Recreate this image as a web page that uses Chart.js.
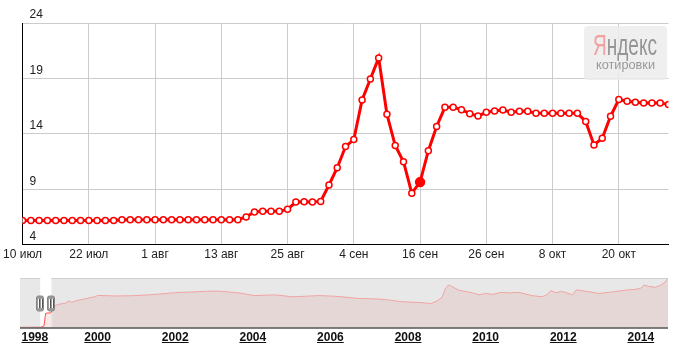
<!DOCTYPE html>
<html lang="ru">
<head>
<meta charset="utf-8">
<title>Котировки</title>
<script src="https://cdn.jsdelivr.net/npm/chart.js@4.4.1/dist/chart.umd.min.js"></script>
<style>
  body { margin: 0; background: #fff; }
  #wrap { position: relative; width: 674px; height: 351px; overflow: hidden; }
  #mainChart { position: absolute; left: 0; top: 0; }
  #navChart { position: absolute; left: 0; top: 265px; }
</style>
</head>
<body>
<div id="wrap">
  <canvas id="mainChart" width="674" height="265"></canvas>
  <canvas id="navChart" width="674" height="86"></canvas>
</div>
<script>
// основной график: подписи дат (каждые 8 торговых дней) и курс
const dateLabels = ['10 июл', '22 июл', '1 авг', '13 авг', '25 авг', '4 сен', '16 сен', '26 сен', '8 окт', '20 окт'];
const rates = [
  6.18, 6.18, 6.18, 6.18, 6.18, 6.18, 6.18, 6.18, 6.18, 6.18, 6.18, 6.18,
  6.24, 6.24, 6.24, 6.24, 6.24, 6.24, 6.24, 6.24, 6.24, 6.24, 6.24, 6.24, 6.24, 6.24, 6.24,
  6.5, 6.94, 7.02, 7.02, 7.02, 7.18, 7.84, 7.86, 7.84, 7.9,
  9.38, 10.94, 12.85, 13.48, 17.06, 18.94, 20.85, 15.76, 12.94, 11.48, 8.64, 9.64,
  12.48, 14.66, 16.39, 16.39, 16.18, 15.82, 15.6, 15.94, 16.06, 16.15, 15.94, 16.03, 16.03,
  15.85, 15.85, 15.85, 15.85, 15.85, 15.85, 15.12, 13.0, 13.6, 15.58,
  17.09, 16.94, 16.85, 16.79, 16.79, 16.79, 16.64
];
const yTicks = [4, 9, 14, 19, 24];
const activeIndex = 48; // 16 сен - выделенная точка

// навигатор: годы и курс за весь период
const navYears = [
  1998.0, 1998.3, 1998.55, 1998.62, 1998.66, 1998.72, 1998.79, 1998.84, 1998.88, 1998.98,
  1999.1, 1999.18, 1999.25, 1999.33, 1999.45, 1999.7, 1999.95, 2000.0, 2000.5, 2000.9,
  2001.33, 2001.6, 2002.0, 2002.46, 2002.8, 2003.1, 2003.26, 2003.7, 2004.03, 2004.57,
  2005.03, 2005.4, 2005.7, 2006.14, 2006.7, 2007.25, 2007.55, 2007.8, 2008.36, 2008.5,
  2008.6, 2008.75, 2008.88, 2008.97, 2009.04, 2009.14, 2009.3, 2009.49, 2009.66, 2009.83,
  2010.0, 2010.2, 2010.4, 2010.6, 2010.86, 2011.2, 2011.46, 2011.59, 2011.68, 2011.8,
  2011.98, 2012.24, 2012.34, 2012.58, 2012.92, 2013.27, 2013.61, 2013.87, 2014.0, 2014.08,
  2014.2, 2014.38, 2014.51, 2014.6, 2014.7
];
const navRates = [
  6.0, 6.1, 6.2, 7.0, 16.0, 16.2, 16.2, 18.5, 21.3, 22.3,
  23.0, 23.2, 24.9, 23.9, 25.0, 26.5, 28.0, 28.8, 28.4, 28.6,
  29.2, 29.8, 30.8, 31.3, 31.8, 31.9, 31.6, 30.4, 28.7, 29.2,
  27.8, 28.3, 28.7, 28.2, 26.7, 26.2, 25.4, 24.4, 23.6, 23.2,
  23.0, 25.0, 27.5, 34.0, 36.3, 35.2, 32.6, 31.6, 30.6, 29.3,
  30.2, 29.6, 31.0, 30.6, 31.0, 28.6, 27.9, 29.5, 32.3, 30.8,
  31.6, 29.3, 32.8, 31.8, 30.2, 31.3, 32.6, 33.2, 34.0, 36.2,
  35.3, 34.6, 36.2, 37.8, 41.0
];
const yearLabels = [1998, 2000, 2002, 2004, 2006, 2008, 2010, 2012, 2014];
const windowFrom = 1998.52, windowTo = 1998.81;

const FONT = 'Arial, "Liberation Sans", sans-serif';
Chart.defaults.font.family = FONT;
Chart.defaults.font.size = 12;
Chart.defaults.color = '#222';

// логотип Яндекс.Котировки
const logoPlugin = {
  id: 'logo',
  beforeDatasetsDraw(chart) {
    const ctx = chart.ctx;
    ctx.save();
    ctx.fillStyle = 'rgba(236,236,236,0.85)';
    ctx.beginPath();
    ctx.roundRect(584, 26, 83, 54, 4);
    ctx.fill();

    ctx.font = '30px ' + FONT;
    ctx.textBaseline = 'alphabetic';
    const wYa = ctx.measureText('Я').width;
    const wAll = ctx.measureText('Яндекс').width;
    const s = 64 / wAll;
    ctx.translate(593, 55);
    ctx.scale(s, 1);
    ctx.fillStyle = '#f2a0a0';
    ctx.fillText('Я', 0, 0);
    ctx.fillStyle = '#959595';
    ctx.fillText('ндекс', wYa, 0);
    ctx.restore();

    ctx.save();
    ctx.font = '12px ' + FONT;
    ctx.fillStyle = '#999';
    const w = ctx.measureText('котировки').width;
    ctx.translate(596, 69);
    ctx.scale(59 / w, 1);
    ctx.fillText('котировки', 0, 0);
    ctx.restore();
  }
};

new Chart(document.getElementById('mainChart'), {
  type: 'line',
  data: {
    datasets: [{
      data: rates.map((v, i) => ({ x: i, y: v })),
      borderColor: '#ff0000',
      borderWidth: 3,
      pointRadius: ctx => ctx.dataIndex === activeIndex ? 4.5 : 3,
      pointBackgroundColor: ctx => ctx.dataIndex === activeIndex ? '#ff0000' : '#ffffff',
      pointBorderColor: '#ff0000',
      pointBorderWidth: 1.5,
      tension: 0
    }]
  },
  options: {
    responsive: false,
    animation: false,
    events: [],
    layout: { padding: { left: 20, right: 4, top: 23, bottom: 0 } },
    plugins: { legend: { display: false }, tooltip: { enabled: false } },
    scales: {
      x: {
        type: 'linear',
        min: 0,
        max: rates.length - 1,
        afterBuildTicks: scale => {
          scale.ticks = dateLabels.map((d, i) => ({ value: i * 8 }));
        },
        ticks: {
          autoSkip: false,
          maxRotation: 0,
          padding: 3,
          color: '#222',
          callback: v => dateLabels[v / 8]
        },
        grid: { color: '#cccccc', drawTicks: false },
        border: { color: '#000', width: 1 }
      },
      y: {
        min: 4,
        max: 24,
        afterBuildTicks: scale => {
          scale.ticks = yTicks.map(v => ({ value: v }));
        },
        afterFit: scale => { scale.width = 0; },
        ticks: { mirror: true, padding: 7, labelOffset: -8, color: '#222' },
        grid: { color: '#cccccc', drawTicks: false },
        border: { color: '#000', width: 1 }
      }
    }
  },
  plugins: [logoPlugin]
});

// фон, окно выбора, ручки и подписи годов навигатора
const navPlugin = {
  id: 'nav',
  beforeDatasetsDraw(chart) {
    const ctx = chart.ctx, a = chart.chartArea, x = chart.scales.x;
    const x1 = x.getPixelForValue(windowFrom), x2 = x.getPixelForValue(windowTo);
    ctx.save();
    ctx.fillStyle = '#e8e8e8';
    ctx.fillRect(a.left, a.top, a.right - a.left, a.bottom - a.top);
    ctx.fillStyle = '#ffffff';
    ctx.fillRect(x1, a.top, x2 - x1, a.bottom - a.top);
    ctx.fillStyle = '#cfcfcf';
    ctx.fillRect(a.left, a.top, x1 - a.left, 1);
    ctx.fillRect(x2, a.top, a.right - x2, 1);
    ctx.restore();
  },
  afterDraw(chart) {
    const ctx = chart.ctx, a = chart.chartArea, x = chart.scales.x;
    ctx.save();
    ctx.fillStyle = '#000';
    ctx.fillRect(a.left, a.bottom, a.right - a.left, 1);

    // ручки
    [windowFrom, windowTo].forEach(v => {
      const px = Math.round(x.getPixelForValue(v));
      ctx.fillStyle = '#9b9b9b';
      ctx.strokeStyle = '#858585';
      ctx.lineWidth = 1;
      ctx.beginPath();
      ctx.roundRect(px - 3.5, 31, 7, 15, 2);
      ctx.fill();
      ctx.stroke();
      ctx.fillStyle = '#ffffff';
      ctx.fillRect(px - 2, 34, 1, 9);
      ctx.fillRect(px + 1, 34, 1, 9);
      ctx.fillStyle = '#555';
      ctx.fillRect(px - 1, 34, 1, 9);
      ctx.fillRect(px + 2, 34, 1, 9);
    });

    // годы
    ctx.font = 'bold 12px ' + FONT;
    ctx.fillStyle = '#111';
    ctx.textBaseline = 'alphabetic';
    yearLabels.forEach(y => {
      const w = ctx.measureText(String(y)).width;
      let left = x.getPixelForValue(y) - w / 2;
      if (left < a.left + 1.5) left = a.left + 1.5;
      ctx.fillText(String(y), left, 76);
      ctx.fillRect(left, 77, w, 1);
    });
    ctx.restore();
  }
};

new Chart(document.getElementById('navChart'), {
  type: 'line',
  data: {
    datasets: [{
      data: navYears.map((y, i) => ({ x: y, y: navRates[i] })),
      borderWidth: 1,
      borderColor: '#f0a4a4',
      backgroundColor: 'rgba(225,150,150,0.2)',
      fill: 'start',
      pointRadius: 0,
      tension: 0,
      segment: {
        borderColor: ctx => (ctx.p0.parsed.x >= windowFrom && ctx.p1.parsed.x <= windowTo + 0.05) ? '#ff5050' : undefined
      }
    }]
  },
  options: {
    responsive: false,
    animation: false,
    events: [],
    layout: { padding: { left: 20, right: 6, top: 13, bottom: 23.5 } },
    plugins: { legend: { display: false }, tooltip: { enabled: false } },
    scales: {
      x: { type: 'linear', min: 1998.0, max: 2014.7, display: false },
      y: { min: 5.8, max: 41.3, display: false }
    }
  },
  plugins: [navPlugin]
});
</script>
</body>
</html>
